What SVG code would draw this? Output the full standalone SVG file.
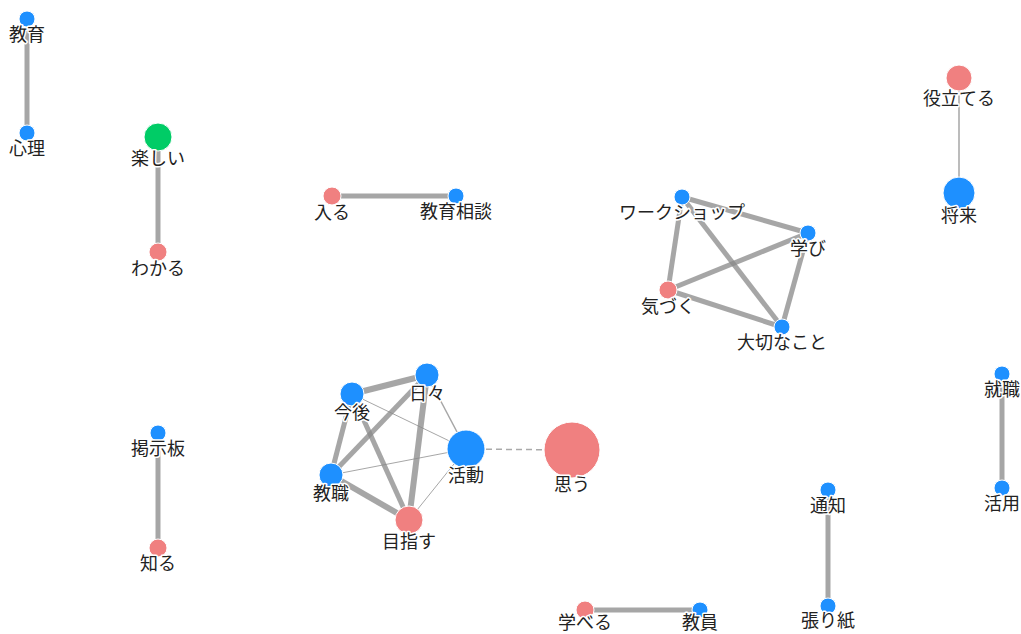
<svg xmlns="http://www.w3.org/2000/svg" width="1021" height="634" viewBox="0 0 1021 634">
<style>
.e{stroke:#888;stroke-opacity:0.75;fill:none;stroke-linecap:butt}
.w5{stroke-width:5}
.w6{stroke-width:6}
.w1{stroke-width:1}
.w15{stroke-width:1.5}
.d{stroke:#aaa;stroke-opacity:1;stroke-width:1.5;stroke-dasharray:6 4}
.b{fill:#1e90ff;stroke:#fff;stroke-width:1}
.p{fill:#f08080;stroke:#fff;stroke-width:1}
.g{fill:#00cc66;stroke:#fff;stroke-width:1}
text{font-family:"Noto Sans CJK JP","Noto Sans",sans-serif;font-size:18px;fill:#222;text-anchor:middle;stroke:#fff;stroke-width:3;paint-order:stroke;stroke-linejoin:round}
</style>
<rect width="1021" height="634" fill="#fff"/>
<g id="edges">
<line class="e w5" x1="27" y1="19" x2="27" y2="133"/>
<line class="e w5" x1="158" y1="137" x2="158" y2="252"/>
<line class="e w5" x1="332" y1="196" x2="456" y2="196"/>
<line class="e w15" x1="959" y1="78" x2="959" y2="193"/>
<line class="e w5" x1="682" y1="197" x2="808" y2="233"/>
<line class="e w5" x1="682" y1="197" x2="668" y2="290"/>
<line class="e w5" x1="682" y1="197" x2="782" y2="327"/>
<line class="e w5" x1="808" y1="233" x2="668" y2="290"/>
<line class="e w5" x1="808" y1="233" x2="782" y2="327"/>
<line class="e w5" x1="668" y1="290" x2="782" y2="327"/>
<line class="e w5" x1="1002" y1="374" x2="1002" y2="488"/>
<line class="e w5" x1="158" y1="433" x2="158" y2="548"/>
<line class="e w5" x1="828" y1="490" x2="828" y2="606"/>
<line class="e w5" x1="585" y1="610" x2="700" y2="610"/>
<line class="e w6" x1="352" y1="394" x2="427" y2="375"/>
<line class="e w5" x1="352" y1="394" x2="331" y2="475"/>
<line class="e w5" x1="352" y1="394" x2="409" y2="520"/>
<line class="e w1" x1="352" y1="394" x2="466" y2="449"/>
<line class="e w5" x1="427" y1="375" x2="331" y2="475"/>
<line class="e w6" x1="427" y1="375" x2="409" y2="520"/>
<line class="e w15" x1="427" y1="375" x2="466" y2="449"/>
<line class="e w6" x1="331" y1="475" x2="409" y2="520"/>
<line class="e w1" x1="331" y1="475" x2="466" y2="449"/>
<line class="e w1" x1="409" y1="520" x2="466" y2="449"/>
<line class="e d" x1="466" y1="449" x2="572" y2="450"/>
</g>
<g id="n-kyouiku"><circle class="b" cx="27" cy="19" r="8"/><text x="27" y="41">教育</text></g>
<g id="n-shinri"><circle class="b" cx="27" cy="133" r="8"/><text x="27" y="155">心理</text></g>
<g id="n-tanoshii"><circle class="g" cx="158" cy="137" r="14"/><text x="158" y="165">楽しい</text></g>
<g id="n-wakaru"><circle class="p" cx="158" cy="252" r="9"/><text x="158" y="275">わかる</text></g>
<g id="n-hairu"><circle class="p" cx="332" cy="196" r="9"/><text x="332" y="219">入る</text></g>
<g id="n-kyouikusoudan"><circle class="b" cx="456" cy="196" r="8"/><text x="456" y="218">教育相談</text></g>
<g id="n-workshop"><circle class="b" cx="682" cy="197" r="8"/><text x="682" y="219">ワークショップ</text></g>
<g id="n-manabi"><circle class="b" cx="808" cy="233" r="8"/><text x="808" y="255">学び</text></g>
<g id="n-kizuku"><circle class="p" cx="668" cy="290" r="9"/><text x="668" y="313">気づく</text></g>
<g id="n-taisetsu"><circle class="b" cx="782" cy="327" r="8"/><text x="782" y="349">大切なこと</text></g>
<g id="n-yakudateru"><circle class="p" cx="959" cy="78" r="13"/><text x="959" y="105">役立てる</text></g>
<g id="n-shourai"><circle class="b" cx="959" cy="193" r="16"/><text x="959" y="222">将来</text></g>
<g id="n-shuushoku"><circle class="b" cx="1002" cy="374" r="8"/><text x="1002" y="396">就職</text></g>
<g id="n-katsuyou"><circle class="b" cx="1002" cy="488" r="8"/><text x="1002" y="510">活用</text></g>
<g id="n-keijiban"><circle class="b" cx="158" cy="433" r="8"/><text x="158" y="455">掲示板</text></g>
<g id="n-shiru"><circle class="p" cx="158" cy="548" r="9"/><text x="158" y="570">知る</text></g>
<g id="n-tsuuchi"><circle class="b" cx="828" cy="490" r="8"/><text x="828" y="512">通知</text></g>
<g id="n-harigami"><circle class="b" cx="828" cy="606" r="8"/><text x="828" y="627">張り紙</text></g>
<g id="n-manaberu"><circle class="p" cx="585" cy="610" r="9"/><text x="585" y="629">学べる</text></g>
<g id="n-kyouin"><circle class="b" cx="700" cy="610" r="8"/><text x="700" y="629">教員</text></g>
<g id="n-hibi"><circle class="b" cx="427" cy="375" r="12"/><text x="427" y="400">日々</text></g>
<g id="n-kongo"><circle class="b" cx="352" cy="394" r="12"/><text x="352" y="419">今後</text></g>
<g id="n-katsudou"><circle class="b" cx="466" cy="449" r="19"/><text x="466" y="482">活動</text></g>
<g id="n-kyoushoku"><circle class="b" cx="331" cy="475" r="12"/><text x="331" y="500">教職</text></g>
<g id="n-mezasu"><circle class="p" cx="409" cy="520" r="14"/><text x="409" y="548">目指す</text></g>
<g id="n-omou"><circle class="p" cx="572" cy="450" r="28"/><text x="572" y="491">思う</text></g>
</svg>
